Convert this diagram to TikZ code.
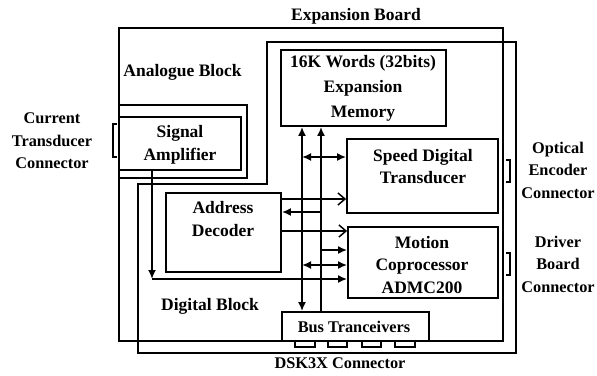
\documentclass[tikz,border=0pt]{standalone}
\usepackage{fontspec}
\setmainfont{Liberation Serif}
\usetikzlibrary{arrows.meta}
\begin{document}
\begin{tikzpicture}[x=1pt,y=-1pt,line width=1.8pt,
  lbl/.style={font=\fontsize{17.5}{22.5}\selectfont\bfseries,align=center,inner sep=0pt},
  sidelbl/.style={font=\fontsize{16.3}{22.5}\selectfont\bfseries,align=center,inner sep=0pt},
  box/.style={draw,rectangle,inner sep=0pt},
  fa/.style={-{Latex[length=9pt,width=8pt]}},
  fab/.style={{Latex[length=9pt,width=8pt]}-{Latex[length=9pt,width=8pt]}},
  oa/.style={-{Straight Barb[length=7pt,width=12pt,line width=1.5pt]}}]
\useasboundingbox (0,0) rectangle (597,375);
\fill[white] (0,0) rectangle (597,375);

% outer board and block outlines
\draw (119,28) rectangle (503,341);
\draw (138,353) -- (138,184) -- (267,184) -- (267,42) -- (516,42) -- (516,353) -- cycle;
\draw (119,105) rectangle (247,178);

% boxes
\node[box,minimum width=121.5pt,minimum height=53pt] (amp) at (180.25,143.5) {};
\node[box,minimum width=165pt,minimum height=76pt] (mem) at (363.5,88) {};
\node[box,minimum width=151pt,minimum height=74pt] (sdt) at (422.5,176) {};
\node[box,minimum width=150pt,minimum height=71pt] (mot) at (423,262.5) {};
\node[box,minimum width=115pt,minimum height=79pt] (ad) at (223.5,232.5) {};
\node[box,minimum width=147pt,minimum height=29pt] (bus) at (355.5,326.5) {};

% connector pins below bus tranceivers
\foreach \a/\b in {295/315,328/347,362/381,395/415}
  \draw[line width=1.4pt] (\a,341) rectangle (\b,347);

% side connector brackets
\draw[line width=1.4pt] (117,124) -- (113,124) -- (113,157) -- (117,157);
\draw[line width=1.4pt] (506,160) -- (510,160) -- (510,182) -- (506,182);
\draw[line width=1.4pt] (506,253) -- (510,253) -- (510,275) -- (506,275);

% texts
\node[lbl] (tboard) at (356,16) {Expansion Board};
\node[lbl] (tanalog) at (182.5,72) {Analogue Block};
\node[sidelbl] (tcur) at (52,141) {Current\\Transducer\\Connector};
\node[lbl] (tamp) at (180,145) {Signal\\Amplifier};
\node[lbl,font=\fontsize{17.5}{25}\selectfont\bfseries] (tmem) at (363,88) {16K Words (32bits)\\Expansion\\Memory};
\node[lbl] (tsdt) at (423,166.5) {Speed Digital\\Transducer};
\node[lbl] (tad) at (223,219) {Address\\Decoder};
\node[lbl] (tmot) at (422,265) {Motion\\Coprocessor\\ADMC200};
\node[lbl] (tdig) at (210,306) {Digital Block};
\node[sidelbl] (tbus) at (354,327) {Bus Tranceivers};
\node[sidelbl] (tdsk) at (340,363) {DSK3X Connector};
\node[sidelbl] (topt) at (558,170) {Optical\\Encoder\\Connector};
\node[sidelbl] (tdrv) at (558,264) {Driver\\Board\\Connector};

% bus lines
\coordinate (bl) at (302,0);
\coordinate (br) at (321,0);
\coordinate (amx) at (152,0);
\draw[fab] (bl |- bus.north) -- (bl |- mem.south);
\draw[fa] (br |- bus.north) -- (br |- mem.south);

% horizontal connections
\draw[fab] (bl |- 0,157) -- (sdt.west |- 0,157);
\draw[oa] (ad.east |- 0,199) -- (sdt.west |- 0,199);
\draw[fa] (br |- 0,212) -- (ad.east |- 0,212);
\draw[oa] (ad.east |- 0,231) -- (mot.west |- 0,231);
\draw[fa] (br |- 0,250) -- (mot.west |- 0,250);
\draw[fab] (bl |- 0,265) -- (mot.west |- 0,265);
\coordinate (corner) at (amx |- 0,279);
\draw[fa] (amx |- amp.south) -- (corner);
\draw[fa] (corner) -- (mot.west |- corner);
\end{tikzpicture}
\end{document}
